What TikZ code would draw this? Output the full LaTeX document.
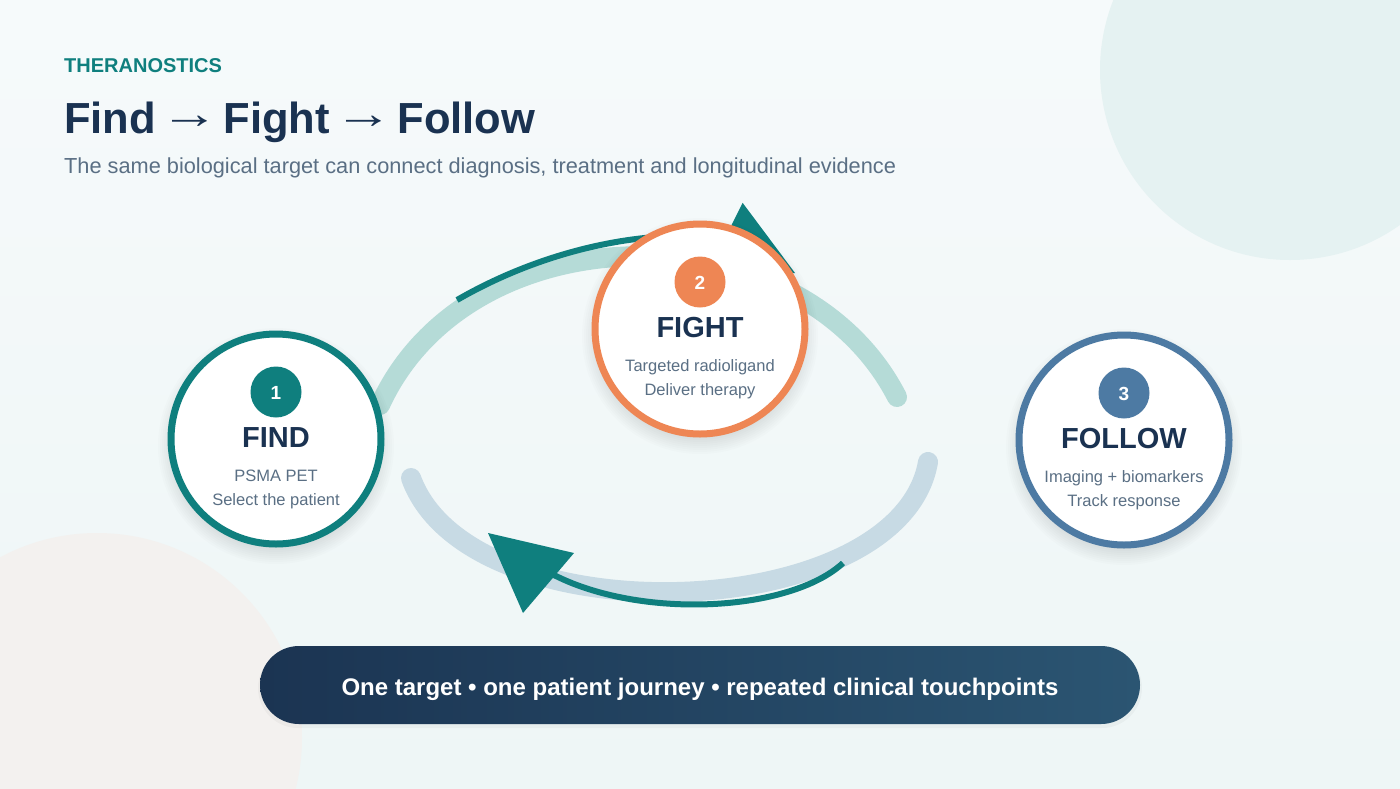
\documentclass[tikz,border=0pt]{standalone}
\usepackage{fontspec}
\usepackage{graphicx}
\setmainfont{Liberation Sans}
\usetikzlibrary{calc}
\definecolor{bgA}{HTML}{F6FAFB}
\definecolor{bgB}{HTML}{EEF6F6}
\definecolor{decoTR}{HTML}{E5F2F2}
\definecolor{decoBL}{HTML}{F3F1EF}
\definecolor{tealD}{HTML}{0F7F7E}
\definecolor{tealL}{HTML}{B5DBD7}
\definecolor{steelL}{HTML}{C7DAE4}
\definecolor{orangeC}{HTML}{EE8654}
\definecolor{steelC}{HTML}{4D7AA3}
\definecolor{navyT}{HTML}{1A3251}
\definecolor{greyT}{HTML}{5A6F84}
\definecolor{pillL}{HTML}{1B3452}
\definecolor{pillR}{HTML}{2B5572}
\newcommand{\titlearrow}{\raisebox{5pt}{\makebox[43.5pt]{\mdseries\scalebox{1.35}[1]{→}}}}
\tikzset{
  ring/.style={circle, draw=#1, line width=7pt, fill=white, minimum size=210pt, inner sep=0pt},
  badge/.style={circle, fill=#1, minimum size=51pt, inner sep=0pt},
  numtxt/.style={anchor=base, text=white, font=\fontsize{19pt}{22pt}\selectfont\bfseries},
  headtxt/.style={anchor=base, text=navyT, font=\fontsize{29pt}{34pt}\selectfont\bfseries},
  subtxt/.style={anchor=base, text=greyT, font=\fontsize{16.5pt}{20pt}\selectfont},
  lightarc/.style={line width=20pt, line cap=round, draw=#1},
  darkarc/.style={line width=6pt, draw=tealD},
}
\begin{document}
\begin{tikzpicture}[x=1pt,y=-1pt]
\useasboundingbox (0,0) rectangle (1400,788);
\shade[top color=bgA, bottom color=bgB] (0,0) rectangle (1400,788);
% decorative circles
\fill[decoTR] (1290,70) circle (190pt);
\fill[decoBL] (97,738) circle (205pt);

% header
\node[anchor=base west, inner sep=0pt, text=tealD, font=\fontsize{20pt}{24pt}\selectfont\bfseries] (kicker) at (64,72) {THERANOSTICS};
\node[anchor=base west, inner sep=0pt, text=navyT, font=\fontsize{43.5pt}{50pt}\selectfont\bfseries] (title) at (64,133) {Find \titlearrow{} Fight \titlearrow{} Follow};
\node[anchor=base west, inner sep=0pt, text=greyT, font=\fontsize{21.75pt}{26pt}\selectfont] (subtitle) at (64,173) {The same biological target can connect diagnosis, treatment and longitudinal evidence};

% centres
\coordinate (cFind) at (276,439);
\coordinate (cFight) at (700,329);
\coordinate (cFollow) at (1124,440);

% light arcs
\coordinate (tl0) at (380,405);
\coordinate (tl1) at (897,397);
\draw[lightarc=tealL] (tl0) .. controls (470,208) and (800,208) .. (tl1);
\coordinate (bl0) at (411,478);
\coordinate (bl1) at (928,462);
\draw[lightarc=steelL] (bl0) .. controls (470,640) and (900,625) .. (bl1);

% dark arcs with arrowheads
\coordinate (td0) at (457,300);
\coordinate (tdM) at (725,238);
\coordinate (tdT) at (795,273);
\draw[darkarc] (td0) .. controls (540,252) and (640,228) .. (tdM);
\fill[tealD] (tdT) -- (742.6,202.8) -- (707.4,273.2) -- cycle;
\coordinate (bd0) at (843,563);
\coordinate (bdM) at (552,574);
\coordinate (bdT) at (488,533);
\draw[darkarc] (bd0) .. controls (790,612) and (640,620) .. (bdM);
\fill[tealD] (bdT) -- (574,553) -- (523,613) -- cycle;

% shadows
\foreach \c in {cFind,cFight,cFollow}{
  \foreach \k in {0,...,9}{
    \fill[black,opacity=0.012] ([yshift=-7pt]\c) circle ({100pt+\k*2pt});
  }
}

% circles
\node[ring=tealD] (find) at (cFind) {};
\node[ring=orangeC] (fight) at (cFight) {};
\node[ring=steelC] (follow) at (cFollow) {};

\node[badge=tealD] (b1) at ([yshift=47pt]cFind) {};
\node[badge=orangeC] (b2) at ([yshift=47pt]cFight) {};
\node[badge=steelC] (b3) at ([yshift=47pt]cFollow) {};
\node[numtxt] (n1) at ([yshift=40pt]cFind) {1};
\node[numtxt] (n2) at ([yshift=40pt]cFight) {2};
\node[numtxt] (n3) at ([yshift=40pt]cFollow) {3};

\node[headtxt] (h1) at ([yshift=-8.5pt]cFind) {FIND};
\node[headtxt] (h2) at ([yshift=-8.5pt]cFight) {FIGHT};
\node[headtxt] (h3) at ([yshift=-8.5pt]cFollow) {FOLLOW};

\node[subtxt] (s1a) at ([yshift=-42pt]cFind) {PSMA PET};
\node[subtxt] (s1b) at ([yshift=-66.5pt]cFind) {Select the patient};
\node[subtxt] (s2a) at ([yshift=-42pt]cFight) {Targeted radioligand};
\node[subtxt] (s2b) at ([yshift=-66.5pt]cFight) {Deliver therapy};
\node[subtxt] (s3a) at ([yshift=-42pt]cFollow) {Imaging + biomarkers};
\node[subtxt] (s3b) at ([yshift=-66.5pt]cFollow) {Track response};

% bottom pill
\fill[black, opacity=0.03, rounded corners=40pt] (258,648) rectangle (1142,728);
\shade[left color=pillL, right color=pillR, rounded corners=39pt] (260,646) rectangle (1140,724);
\node[anchor=base, inner sep=0pt, text=white, font=\fontsize{24pt}{28pt}\selectfont\bfseries] (bar) at (700,695.5) {One target • one patient journey • repeated clinical touchpoints};
\end{tikzpicture}
\end{document}
